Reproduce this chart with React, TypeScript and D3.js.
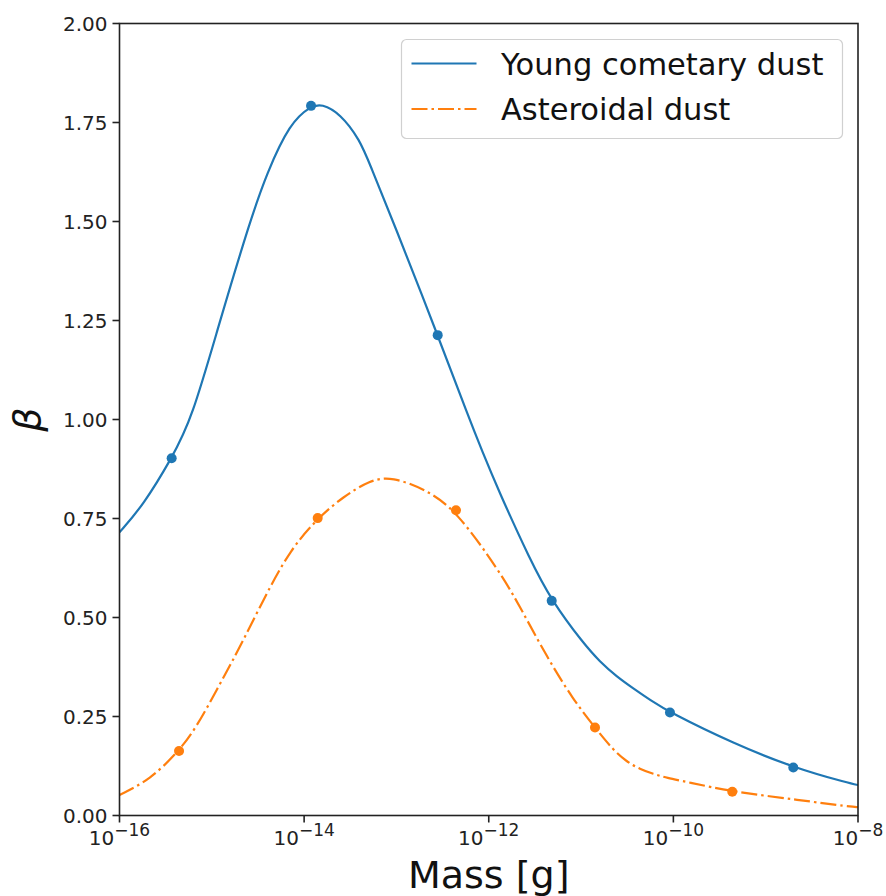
import * as d3 from "d3";

// values (log10 of mass in g, beta)
const cometLogMass = [-16.0, -15.742, -15.435, -15.218, -14.911, -14.586, -14.405, -14.153, -13.925, -13.81, -13.611, -13.395, -13.286, -13.037, -12.553, -12.214, -12.076, -11.897, -11.553, -11.318, -10.976, -10.795, -10.614, -10.434, -10.253, -10.037, -9.351, -8.701, -8.089, -8.0];
const cometBeta = [0.715, 0.784, 0.902, 1.0, 1.25, 1.501, 1.622, 1.749, 1.792, 1.797, 1.773, 1.706, 1.643, 1.501, 1.213, 1.003, 0.923, 0.822, 0.646, 0.542, 0.435, 0.388, 0.351, 0.321, 0.292, 0.26, 0.182, 0.121, 0.081, 0.077];

const asteroidLogMass = [-16.0, -15.67, -15.355, -15.164, -14.947, -14.73, -14.586, -14.405, -14.153, -13.853, -13.576, -13.286, -13.051, -12.672, -12.355, -11.878, -11.661, -11.372, -11.084, -10.849, -10.651, -10.506, -10.362, -10.218, -10.072, -9.856, -9.362, -8.628, -8.087, -8.0];
const asteroidBeta = [0.052, 0.09, 0.163, 0.224, 0.317, 0.41, 0.477, 0.561, 0.67, 0.751, 0.805, 0.847, 0.856, 0.822, 0.771, 0.615, 0.527, 0.401, 0.292, 0.222, 0.165, 0.136, 0.117, 0.105, 0.095, 0.085, 0.06, 0.039, 0.022, 0.021];

// measured points (markers)
const cometPointLogMass = [-15.435, -13.925, -12.553, -11.318, -10.037, -8.701];
const cometPointBeta = [0.902, 1.792, 1.213, 0.542, 0.26, 0.121];
const asteroidPointLogMass = [-15.355, -13.853, -12.355, -10.849, -9.362];
const asteroidPointBeta = [0.163, 0.751, 0.771, 0.222, 0.06];

const xTickExponents = [-16, -14, -12, -10, -8];
const yTicks = [0, 0.25, 0.5, 0.75, 1.0, 1.25, 1.5, 1.75, 2.0];

const seriesNames = ["Young cometary dust", "Asteroidal dust"];
const seriesColors = ["#1f77b4", "#ff7f0e"];

const W = 886;
const H = 896;
const left = 119.5;
const right = 858;
const top = 23.5;
const bottom = 815.5;
const font = "DejaVu Sans, sans-serif";
const dashDot = "16,4,2.5,4";

const App = () => {
  const xScale = d3.scaleLog().domain([1e-16, 1e-8]).range([left, right]);
  const yScale = d3.scaleLinear().domain([0, 2]).range([bottom, top]);

  const toPts = (lm: number[], b: number[]) => lm.map((v, i) => [Math.pow(10, v), b[i]] as [number, number]);

  // smooth B-spline through the read-off samples
  const line = d3
    .line<[number, number]>()
    .x((d) => xScale(d[0]))
    .y((d) => yScale(d[1]))
    .curve(d3.curveBasis);

  const cometPath = line(toPts(cometLogMass, cometBeta)) || "";
  const asteroidPath = line(toPts(asteroidLogMass, asteroidBeta)) || "";
  const cometPts = toPts(cometPointLogMass, cometPointBeta);
  const asteroidPts = toPts(asteroidPointLogMass, asteroidPointBeta);
  const fmt = d3.format(".2f");

  return (
    <svg width={W} height={H} style={{ position: "absolute", left: 0, top: 0, background: "#fff" }} fontFamily={font}>
      <defs>
        <clipPath id="plotClip">
          <rect x={left} y={top} width={right - left} height={bottom - top} />
        </clipPath>
      </defs>
      <rect x={0} y={0} width={W} height={H} fill="#fff" />

      <g clipPath="url(#plotClip)">
        <path d={cometPath} fill="none" stroke={seriesColors[0]} strokeWidth={2.2} />
        <path d={asteroidPath} fill="none" stroke={seriesColors[1]} strokeWidth={2.2} strokeDasharray={dashDot} />
        {cometPts.map((d, i) => (
          <circle key={"c" + i} cx={xScale(d[0])} cy={yScale(d[1])} r={5} fill={seriesColors[0]} />
        ))}
        {asteroidPts.map((d, i) => (
          <circle key={"a" + i} cx={xScale(d[0])} cy={yScale(d[1])} r={5} fill={seriesColors[1]} />
        ))}
      </g>

      {/* y axis ticks */}
      {yTicks.map((t) => (
        <g key={"y" + t}>
          <line x1={left - 7} x2={left} y1={yScale(t)} y2={yScale(t)} stroke="#222" strokeWidth={1.6} />
          <text x={left - 12} y={yScale(t)} dy="0.36em" textAnchor="end" fontSize={20} fill="#222">
            {fmt(t)}
          </text>
        </g>
      ))}

      {/* x axis ticks */}
      {xTickExponents.map((e) => (
        <g key={"x" + e}>
          <line x1={xScale(Math.pow(10, e))} x2={xScale(Math.pow(10, e))} y1={bottom} y2={bottom + 7} stroke="#222" strokeWidth={1.6} />
          <text x={xScale(Math.pow(10, e))} y={845} textAnchor="middle" fontSize={20} fill="#222">
            <tspan>10</tspan>
            <tspan dy={-9} fontSize={17}>{"\u2212" + Math.abs(e)}</tspan>
          </text>
        </g>
      ))}

      {/* frame */}
      <rect x={left} y={top} width={right - left} height={bottom - top} fill="none" stroke="#222" strokeWidth={1.6} />

      {/* axis labels */}
      <text x={(left + right) / 2} y={888} textAnchor="middle" fontSize={38} fill="#111">
        Mass [g]
      </text>
      <text
        transform={`translate(40, ${(top + bottom) / 2}) rotate(-90)`}
        textAnchor="middle"
        fontSize={38}
        fontStyle="italic"
        fill="#111"
      >
        β
      </text>

      {/* legend */}
      <g>
        <rect x={401.5} y={39.5} width={441} height={99} rx={5} fill="#fff" fillOpacity={0.8} stroke="#d0d0d0" strokeWidth={1.2} />
        {seriesNames.map((name, i) => (
          <g key={name}>
            <line
              x1={411.5}
              x2={476.5}
              y1={63.5 + i * 45.5}
              y2={63.5 + i * 45.5}
              stroke={seriesColors[i]}
              strokeWidth={2.2}
              strokeDasharray={i === 1 ? dashDot : undefined}
            />
            <text x={501} y={75 + i * 44.5} fontSize={30.5} fill="#111">
              {name}
            </text>
          </g>
        ))}
      </g>
    </svg>
  );
};

export default App;
